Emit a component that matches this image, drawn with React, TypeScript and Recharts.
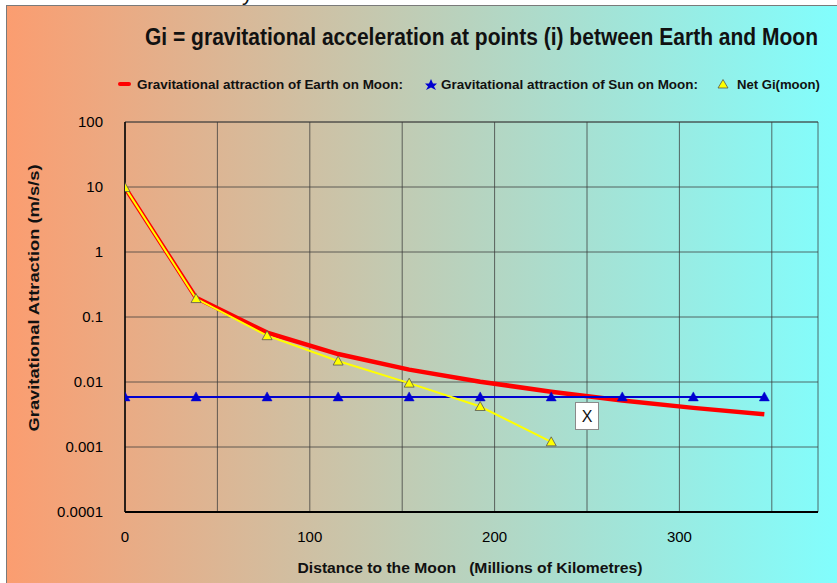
import {
  LineChart,
  Line,
  XAxis,
  YAxis,
  CartesianGrid,
  ReferenceDot,
} from 'recharts';

// points i along the Earth-Moon line (x) and the three accelerations
const distance = [0, 38.44, 76.88, 115.32, 153.76, 192.2, 230.64, 269.08, 307.52, 345.96];
const earthOnMoon = [9.8, 0.198, 0.0575, 0.0269, 0.0155, 0.0101, 0.0071, 0.0052, 0.004, 0.0032];
const sunOnMoon = [0.0059, 0.0059, 0.0059, 0.0059, 0.0059, 0.0059, 0.0059, 0.0059, 0.0059, 0.0059];
const netGi = [9.8, 0.192, 0.0516, 0.021, 0.0096, 0.0042, 0.0012, null, null, null];

const xTicks = [0, 50, 100, 150, 200, 250, 300, 350];
const yTicks = [0.0001, 0.001, 0.01, 0.1, 1, 10, 100];
const bandTicks = [0, 1, 2, 3, 4, 5];

// the boxed "X" marker near where Earth and Sun pull balance
const crossMark = { x: 250, y: 0.003 };

const data = distance.map((d, i) => ({
  d,
  earth: earthOnMoon[i],
  sun: sunOnMoon[i],
  net: netGi[i],
}));

const FONT = '"Liberation Sans", Arial, sans-serif';
const GRID = '#3a3a3a';

const tri = (fill: string, stroke: string, sw: number) => (p: any) => {
  const { cx, cy, index } = p;
  if (cx == null || cy == null || p.value == null) return <g key={`t${fill}${index}`} />;
  return (
    <polygon
      key={`t${fill}${index}`}
      points={`${cx},${cy - 5} ${cx + 5},${cy + 4} ${cx - 5},${cy + 4}`}
      fill={fill}
      stroke={stroke}
      strokeWidth={sw}
    />
  );
};

const XTick = (p: any) => {
  const v = p.payload.value;
  if (v % 100 !== 0) return <g />;
  return (
    <text x={p.x} y={p.y} dy="0.71em" textAnchor="middle" fontFamily={FONT} fontSize={15} fill="#000">
      {String(v)}
    </text>
  );
};

const YTick = (p: any) => (
  <text x={p.x} y={p.y} dy="0.36em" textAnchor="end" fontFamily={FONT} fontSize={15} fill="#000">
    {String(p.payload.value)}
  </text>
);

const XBox = (p: any) => {
  const { cx, cy } = p;
  return (
    <g>
      <rect x={cx - 11.5} y={cy - 13.5} width={23} height={27} fill="#fff" stroke="#8a8a8a" strokeWidth={1} />
      <text x={cx} y={cy + 6} textAnchor="middle" fontFamily={FONT} fontSize={16} fill="#111">
        X
      </text>
    </g>
  );
};

export default function App() {
  return (
    <div style={{ position: 'absolute', left: 0, top: 0, width: 837, height: 583, background: '#fff', overflow: 'hidden' }}>
      <div
        style={{
          position: 'absolute',
          left: 6,
          top: 5,
          width: 840,
          height: 590,
          borderLeft: '1px solid #7a7a7a',
          borderTop: '1px solid #7a7a7a',
          background: 'linear-gradient(to right, #fb9d70 0%, #80ffff 100%)',
        }}
      />
      <svg width={837} height={583} style={{ position: 'absolute', left: 0, top: 0 }}>
        <text x={242} y={0} fontFamily={FONT} fontSize={22} fill="#111">y</text>
        <text x={145} y={45} fontFamily={FONT} fontSize={23} fontWeight="bold" fill="#111"
          textLength={673} lengthAdjust="spacingAndGlyphs">
          Gi = gravitational acceleration at points (i) between Earth and Moon
        </text>

        <rect x={118} y={82} width={13} height={4} rx={2} fill="#ff0000" />
        <text x={137} y={89} fontFamily={FONT} fontSize={12.5} fontWeight="bold" fill="#111"
          textLength={266} lengthAdjust="spacingAndGlyphs">
          Gravitational attraction of Earth on Moon:
        </text>
        <polygon points="431,79 433,83.5 437,83.5 434,86.5 436,90 431,87.5 426,90 428,86.5 425,83.5 429,83.5" fill="#0000d0" />
        <text x={441} y={89} fontFamily={FONT} fontSize={12.5} fontWeight="bold" fill="#111"
          textLength={257} lengthAdjust="spacingAndGlyphs">
          Gravitational attraction of Sun on Moon:
        </text>
        <polygon points="723,79.5 728,88 718,88" fill="#ffff00" stroke="#555" strokeWidth={0.8} />
        <text x={737} y={89} fontFamily={FONT} fontSize={12.5} fontWeight="bold" fill="#111"
          textLength={83} lengthAdjust="spacingAndGlyphs">
          Net Gi(moon)
        </text>

        <text transform="translate(39,298) rotate(-90)" textAnchor="middle" fontFamily={FONT} fontSize={15}
          fontWeight="bold" fill="#111" textLength={267} lengthAdjust="spacingAndGlyphs">
          Gravitational Attraction (m/s/s)
        </text>
        <text x={470} y={573} textAnchor="middle" fontFamily={FONT} fontSize={15} fontWeight="bold" fill="#111"
          textLength={345} lengthAdjust="spacingAndGlyphs" style={{ whiteSpace: 'pre' }}>
          {'Distance to the Moon   (Millions of Kilometres)'}
        </text>
      </svg>

      <div style={{ position: 'absolute', left: 0, top: 0 }}>
        <LineChart width={837} height={583} data={data} margin={{ top: 122, right: 19, left: 45, bottom: 41 }}>
          <CartesianGrid yAxisId="log" stroke={GRID} strokeOpacity={0.75} fill="none" />
          <CartesianGrid yAxisId="band" vertical={false} stroke={GRID} strokeOpacity={0.75} fill="none" />
          <XAxis
            dataKey="d"
            type="number"
            domain={[0, 375]}
            ticks={xTicks}
            interval={0}
            allowDataOverflow
            tickLine={false}
            tickMargin={13}
            axisLine={{ stroke: '#000', strokeWidth: 2 }}
            tick={XTick}
            height={30}
          />
          <YAxis
            yAxisId="log"
            scale="log"
            type="number"
            domain={[0.0001, 100]}
            ticks={yTicks}
            interval={0}
            allowDataOverflow
            tickLine={false}
            tickMargin={16}
            axisLine={{ stroke: '#000', strokeWidth: 1.5 }}
            tick={YTick}
            width={80}
          />
          <YAxis
            yAxisId="band"
            orientation="right"
            type="number"
            domain={[0, 5]}
            ticks={bandTicks}
            tick={false}
            tickLine={false}
            axisLine={{ stroke: '#000', strokeWidth: 1.5 }}
            width={0}
          />
          <Line
            yAxisId="log"
            type="linear"
            dataKey="earth"
            stroke="#ff0000"
            strokeWidth={4.5}
            strokeLinejoin="round"
            dot={false}
            activeDot={false}
            isAnimationActive={false}
          />
          <Line
            yAxisId="log"
            type="linear"
            dataKey="sun"
            stroke="#0000d0"
            strokeWidth={2}
            dot={tri('#0000d0', '#0000d0', 0.5)}
            activeDot={false}
            isAnimationActive={false}
          />
          <Line
            yAxisId="log"
            type="linear"
            dataKey="net"
            stroke="#ffff00"
            strokeWidth={2}
            dot={tri('#ffff00', '#555', 0.8)}
            activeDot={false}
            isAnimationActive={false}
          />
          <ReferenceDot yAxisId="log" x={crossMark.x} y={crossMark.y} shape={XBox} />
        </LineChart>
      </div>
    </div>
  );
}
